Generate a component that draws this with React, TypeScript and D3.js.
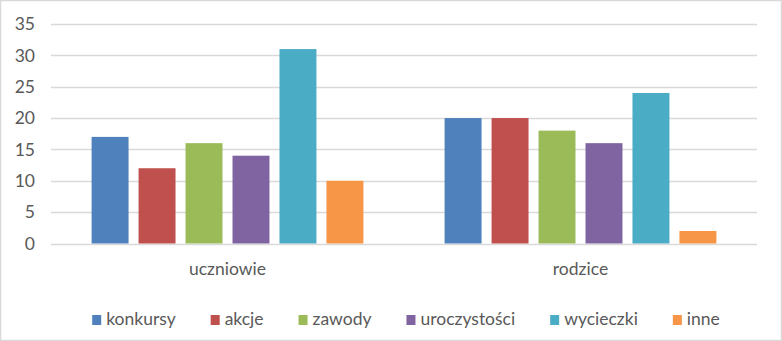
import React from "react";
import * as d3 from "d3";

const categories = ["uczniowie", "rodzice"];
const seriesNames = ["konkursy", "akcje", "zawody", "uroczystości", "wycieczki", "inne"];
const seriesColors = ["#4F81BD", "#C0504D", "#9BBB59", "#8064A2", "#4BACC6", "#F79646"];
const valuesUczniowie = [17, 12, 16, 14, 31, 10];
const valuesRodzice = [20, 20, 18, 16, 24, 2];
const yTicks = [0, 5, 10, 15, 20, 25, 30, 35];

const W = 782;
const H = 341;
const FONT = "Lato, 'Open Sans', sans-serif";
const FS = 17.5;

function measure(text: string, size: number) {
  const c = document.createElement("canvas").getContext("2d");
  if (!c) return text.length * size * 0.5;
  c.font = `${size}px Lato`;
  return c.measureText(text).width;
}

export default function App() {
  const data = [valuesUczniowie, valuesRodzice];
  const plotLeft = 51;
  const plotRight = 757;
  const y = d3.scaleLinear().domain([0, 35]).range([243.5, 24]);
  const x0 = d3.scaleBand<string>().domain(categories).range([plotLeft, plotRight]).paddingInner(0.23).paddingOuter(0.115);
  const x1 = d3.scaleBand<string>().domain(seriesNames).range([0, x0.bandwidth()]).paddingInner(0.213).paddingOuter(0);

  // legend layout
  const markerW = 9;
  const markerGap = 5;
  const itemGap = 35;
  const widths = seriesNames.map((s) => measure(s, FS));
  const itemWidths = widths.map((w) => markerW + markerGap + w);
  const total = d3.sum(itemWidths) + itemGap * (seriesNames.length - 1);
  const legendStart = 406 - total / 2;
  const legendX: number[] = [];
  let acc = legendStart;
  itemWidths.forEach((w) => {
    legendX.push(acc);
    acc += w + itemGap;
  });

  return (
    <svg width={W} height={H} style={{ position: "absolute", left: 0, top: 0, background: "#fff" }} fontFamily={FONT}>
      <rect x={0.5} y={0.5} width={W - 1} height={H - 1} fill="#fff" stroke="#d9d9d9" strokeWidth={1.5} />
      {yTicks.map((t) => (
        <g key={t}>
          <line x1={plotLeft} x2={plotRight} y1={Math.round(y(t)) + 0.5} y2={Math.round(y(t)) + 0.5} stroke="#d9d9d9" strokeWidth={1.5} />
          <text x={35} y={y(t)} dy="0.36em" textAnchor="end" fontSize={FS} fill="#595959">
            {t}
          </text>
        </g>
      ))}
      {categories.map((c, ci) => (
        <g key={c} transform={`translate(${x0(c)},0)`}>
          {seriesNames.map((s, si) => (
            <rect
              key={s}
              x={x1(s)}
              y={y(data[ci][si])}
              width={x1.bandwidth()}
              height={y(0) - y(data[ci][si])}
              fill={seriesColors[si]}
            />
          ))}
          <text x={x0.bandwidth() / 2} y={275} textAnchor="middle" fontSize={FS} fill="#595959">
            {c}
          </text>
        </g>
      ))}
      {seriesNames.map((s, si) => (
        <g key={s} transform={`translate(${legendX[si]},0)`}>
          <rect x={0} y={315} width={markerW} height={10} fill={seriesColors[si]} />
          <text x={markerW + markerGap} y={325} fontSize={FS} fill="#595959">
            {s}
          </text>
        </g>
      ))}
    </svg>
  );
}
